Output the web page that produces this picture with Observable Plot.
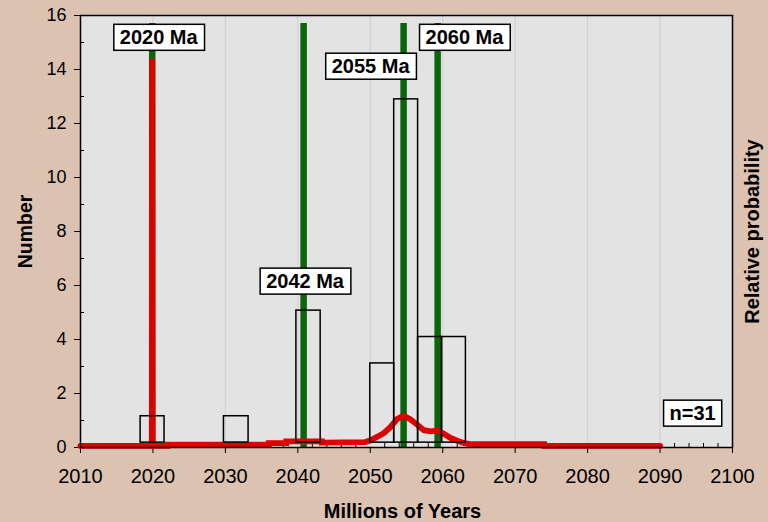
<!DOCTYPE html>
<html>
<head>
<meta charset="utf-8">
<script src="https://cdn.jsdelivr.net/npm/d3@7"></script>
<script src="https://cdn.jsdelivr.net/npm/@observablehq/plot@0.6"></script>
<style>
  html, body { margin: 0; padding: 0; background: #dcc2b0; }
  #chart { width: 768px; height: 522px; }
</style>
</head>
<body>
<div id="chart"></div>
<script>
// ---- data ----
const xTicks = [2010, 2020, 2030, 2040, 2050, 2060, 2070, 2080, 2090, 2100];
const xMinor = [2012,2014,2016,2018,2022,2024,2026,2028,2032,2034,2036,2038,2042,2044,2046,2048,2052,2054,2056,2058,2062,2064,2066,2068,2072,2074,2076,2078,2082,2084,2086,2088,2092,2094,2096,2098];
const gridYears = [2020, 2030, 2040, 2050, 2060, 2070, 2080, 2090];
const yTicks = [0, 2, 4, 6, 8, 10, 12, 14, 16];
const yMinor = [1, 3, 5, 7, 9, 11, 13, 15];

// histogram bins (start, end, count)
const binStart = [2018.3, 2029.8, 2039.8, 2050.0, 2053.3, 2056.6, 2059.9];
const binEnd   = [2021.6, 2033.2, 2043.15, 2053.3, 2056.6, 2059.9, 2063.2];
const binCount = [1, 1, 5, 3, 13, 4, 4];

// relative probability curve (drawn on the same frame)
const probX = [2010, 2019.85, 2019.9, 2019.95, 2022, 2022, 2036, 2036, 2038.4, 2038.4, 2043.3, 2043.3, 2049.3,
  2050.05, 2051.0, 2051.9, 2052.8, 2053.7, 2054.4, 2054.8, 2055.5, 2056.5, 2057.4, 2058.3, 2059.3, 2060.2,
  2061.1, 2062.0, 2063.0, 2064, 2074, 2074, 2090];
const probY = [0.06, 0.06, 14.4, 0.06, 0.06, 0.11, 0.11, 0.16, 0.16, 0.23, 0.23, 0.18, 0.2,
  0.27, 0.40, 0.54, 0.76, 1.05, 1.15, 1.15, 1.05, 0.84, 0.64, 0.6, 0.63, 0.5,
  0.35, 0.25, 0.16, 0.12, 0.12, 0.06, 0.06];

// peak ages (green lines)
const peakX = [2019.9, 2040.8, 2054.6, 2059.3];
const peakTop = 15.7;

// annotation labels
const annText = ["2020 Ma", "2055 Ma", "2060 Ma", "2042 Ma", "n=31"];
const annX = [2020.8, 2050.05, 2063.0, 2041.0, 2094.5];
const annY = [15.17, 14.1, 15.17, 6.14, 1.25];

// histogram drawn on a secondary count scale
const histBase = 0.18, histScale = 0.978;

const bins = binStart.map((s, i) => ({x1: s, x2: binEnd[i], y1: histBase, y2: histBase + histScale * binCount[i]}));
const prob = probX.map((x, i) => ({x, y: probY[i]}));
const peaks = peakX.map(x => ({x, y1: 0, y2: peakTop}));
const anns = annText.map((t, i) => ({t, x: annX[i], y: annY[i]}));

const FONT = "'Liberation Sans', Arial, Helvetica, sans-serif";

const plot = Plot.plot({
  width: 768,
  height: 522,
  marginLeft: 80,
  marginRight: 36,
  marginTop: 15,
  marginBottom: 75,
  style: {background: "#dcc2b0", color: "black", fontFamily: FONT, overflow: "visible"},
  x: {domain: [2010, 2100]},
  y: {domain: [0, 16]},
  marks: [
    Plot.frame({fill: "#e3e3e3", stroke: null}),
    Plot.ruleX(gridYears, {stroke: "#d2d2d2", strokeWidth: 1.2}),
    Plot.axisX({ticks: xTicks, tickSize: 6, tickPadding: 15, fontSize: 20, label: null, tickFormat: d => String(d)}),
    Plot.axisX({ticks: xMinor, tickSize: -4, tickFormat: () => "", label: null}),
    Plot.axisY({ticks: yTicks, tickSize: 6, tickPadding: 8, fontSize: 18, label: null}),
    Plot.axisY({ticks: yMinor, tickSize: -4, tickFormat: () => "", label: null}),
    Plot.ruleX(peaks, {x: "x", y1: "y1", y2: "y2", stroke: "#0b650b", strokeWidth: 6.5}),
    Plot.line(prob, {x: "x", y: "y", stroke: "#e00000", strokeWidth: 5.8, strokeLinejoin: "miter", strokeMiterlimit: 2}),
    Plot.rect(bins, {x1: "x1", x2: "x2", y1: "y1", y2: "y2", fill: "none", stroke: "black", strokeWidth: 1.5}),
    Plot.frame({stroke: "black", strokeWidth: 1.5}),
    Plot.text(anns, {x: "x", y: "y", text: "t", fontSize: 20, fontWeight: "bold", fill: "black"}),
    Plot.text(["Number"], {text: d => d, frameAnchor: "left", dx: -55, rotate: -90, textAnchor: "middle", lineAnchor: "middle", fontSize: 19.5, fontWeight: "bold"}),
    Plot.text(["Relative probability"], {text: d => d, frameAnchor: "right", dx: 20, rotate: -90, textAnchor: "middle", lineAnchor: "middle", fontSize: 20, fontWeight: "bold"}),
    Plot.text(["Millions of Years"], {text: d => d, frameAnchor: "bottom", dx: -4, dy: 64, textAnchor: "middle", lineAnchor: "middle", fontSize: 20, fontWeight: "bold"})
  ]
});

document.getElementById("chart").append(plot);

// white boxes with black borders behind annotation labels
d3.select(plot).selectAll("text").filter(function() {
  return annText.includes(this.textContent) && this.closest("g[aria-label='text']");
}).each(function() {
  const b = this.getBBox();
  const padX = 6, padY = 3;
  const r = document.createElementNS("http://www.w3.org/2000/svg", "rect");
  r.setAttribute("x", b.x - padX);
  r.setAttribute("y", b.y - padY + 1);
  r.setAttribute("width", b.width + 2 * padX);
  r.setAttribute("height", b.height + 2 * padY - 2);
  r.setAttribute("fill", "white");
  r.setAttribute("stroke", "black");
  r.setAttribute("stroke-width", "1.5");
  const t = this.getAttribute("transform");
  if (t) r.setAttribute("transform", t);
  this.parentNode.insertBefore(r, this);
});
</script>
</body>
</html>
